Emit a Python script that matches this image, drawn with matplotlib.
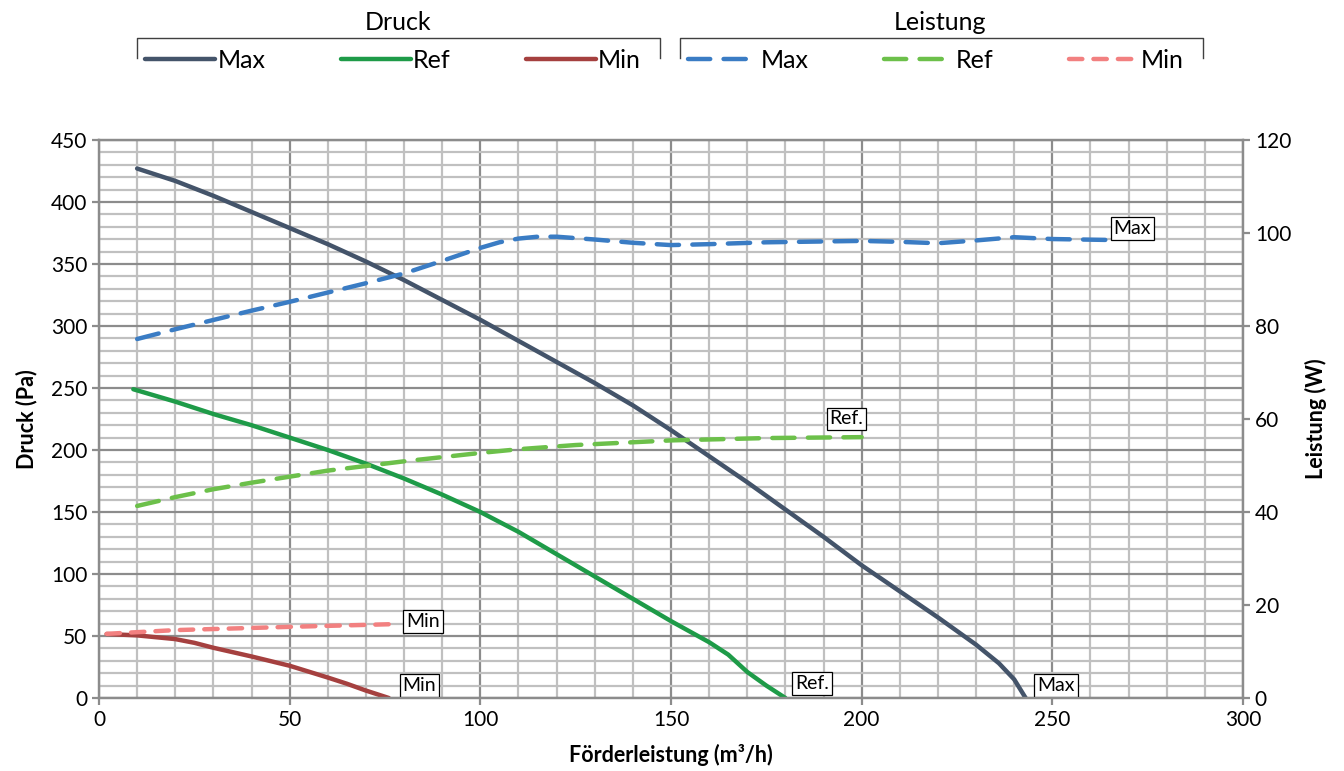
import matplotlib
matplotlib.use("Agg")
import matplotlib.pyplot as plt
from matplotlib.lines import Line2D
from matplotlib.ticker import MultipleLocator

plt.rcParams["font.family"] = ["Lato", "DejaVu Sans"]

# --- Druck (Pa) curves ---
max_x = [10, 20, 30, 40, 50, 60, 70, 80, 90, 100, 110, 120, 130, 140, 150, 160, 170,
         180, 190, 200, 210, 220, 230, 236, 240, 243]
max_p = [427, 417, 405, 392, 379, 366, 352, 337, 321, 305, 288, 271, 254, 236, 216, 195,
         174, 152, 130, 107, 86, 65, 43, 28, 15, 0]
ref_x = [9, 20, 30, 40, 50, 60, 70, 80, 90, 100, 110, 120, 130, 140, 150, 160, 165, 170,
         175, 180]
ref_p = [249, 239, 229, 220, 210, 200, 189, 177, 164, 150, 134, 116, 98, 80, 62, 45, 35,
         21, 10, 0]
min_x = [2, 10, 20, 25, 30, 40, 50, 60, 65, 70, 76]
min_p = [51.6, 50.5, 47.5, 44.5, 40.5, 33.5, 26, 16.5, 11.5, 6, 0]

# --- Leistung (W) curves ---
maxw_x = [10, 20, 30, 40, 50, 60, 70, 80, 90, 100, 105, 110, 115, 120, 130, 140, 150,
          160, 175, 200, 210, 220, 230, 240, 250, 265]
maxw_w = [77.2, 79.3, 81.3, 83.3, 85.2, 87.2, 89.2, 91.3, 94.0, 96.8, 98.0, 98.8, 99.2,
          99.2, 98.6, 97.9, 97.4, 97.6, 98.0, 98.3, 98.1, 97.8, 98.4, 99.1, 98.7, 98.5]
refw_x = [10, 20, 30, 40, 50, 60, 70, 80, 90, 100, 110, 125, 150, 175, 200]
refw_w = [41.3, 43.2, 44.9, 46.3, 47.6, 48.9, 49.9, 50.9, 51.8, 52.7, 53.5, 54.4, 55.4,
          55.9, 56.1]
minw_x = [2, 20, 50, 78]
minw_w = [13.8, 14.6, 15.3, 15.9]

C_MAX, C_REF, C_MIN = "#44546A", "#1E9B48", "#A5403F"
C_MAXW, C_REFW, C_MINW = "#3A7CC4", "#6CC04A", "#F28080"

fig = plt.figure(figsize=(13.44, 7.71), dpi=100)
ax = fig.add_axes([99 / 1344, 1 - 698 / 771, (1243 - 99) / 1344, (698 - 140) / 771])
ax2 = ax.twinx()

ax.set_xlim(0, 300)
ax.set_ylim(0, 450)
ax2.set_ylim(0, 120)
ax.xaxis.set_major_locator(MultipleLocator(50))
ax.xaxis.set_minor_locator(MultipleLocator(10))
ax.yaxis.set_major_locator(MultipleLocator(50))
ax.yaxis.set_minor_locator(MultipleLocator(10))
ax2.yaxis.set_major_locator(MultipleLocator(20))
ax.grid(which="minor", color="#C0C0C0", lw=1.6)
ax.grid(which="major", color="#8C8C8C", lw=1.6)
ax.set_axisbelow(True)
for a in (ax, ax2):
    for s in a.spines.values():
        s.set_color("#8C8C8C")
        s.set_linewidth(1.6)
    a.tick_params(which="major", length=5, width=1.6, color="#8C8C8C", labelsize=15)
    a.tick_params(which="minor", length=0)

lw = 3.2
l_max, = ax.plot(max_x, max_p, color=C_MAX, lw=lw, solid_capstyle="round")
l_ref, = ax.plot(ref_x, ref_p, color=C_REF, lw=lw, solid_capstyle="round")
l_min, = ax.plot(min_x, min_p, color=C_MIN, lw=lw, solid_capstyle="round")
l_maxw, = ax2.plot(maxw_x, maxw_w, color=C_MAXW, lw=lw, dashes=(5, 3), dash_capstyle="round")
l_refw, = ax2.plot(refw_x, refw_w, color=C_REFW, lw=lw, dashes=(5, 3), dash_capstyle="round")
l_minw, = ax2.plot(minw_x, minw_w, color=C_MINW, lw=lw, dashes=(3, 2.5), dash_capstyle="round")

ax.set_xlabel("Förderleistung (m³/h)", fontsize=15.5, fontweight="bold", labelpad=10)
ax.set_ylabel("Druck (Pa)", fontsize=15.5, fontweight="bold", labelpad=10)
ax2.set_ylabel("Leistung (W)", fontsize=15.5, fontweight="bold", labelpad=10)

box = dict(boxstyle="square,pad=0.15", fc="white", ec="black", lw=0.9)
lbl = dict(fontsize=14, bbox=box, ha="center", va="center")
ax2.text(271, 101, "Max", **lbl)
ax2.text(196, 60, "Ref.", **lbl)
ax2.text(85, 16.5, "Min", **lbl)
ax.text(84, 10, "Min", **lbl)
ax.text(187, 12, "Ref.", **lbl)
ax.text(251, 10, "Max", **lbl)

# legend groups with brackets
leg_kw = dict(ncol=3, frameon=False, fontsize=18, handlelength=2.8,
              columnspacing=3.0, handletextpad=0.1, loc="center")
fig.legend([l_max, l_ref, l_min], ["Max", "Ref", "Min"],
           bbox_to_anchor=(393 / 1344, 1 - 60 / 771), **leg_kw)
fig.legend([l_maxw, l_refw, l_minw], ["Max", "Ref", "Min"],
           bbox_to_anchor=(936 / 1344, 1 - 60 / 771), **leg_kw)
fig.text(398 / 1344, 1 - 22 / 771, "Druck", fontsize=18, ha="center", va="center")
fig.text(940 / 1344, 1 - 22 / 771, "Leistung", fontsize=18, ha="center", va="center")
for x0, x1 in ((137, 660), (680, 1203)):
    xs = [x0 / 1344, x0 / 1344, x1 / 1344, x1 / 1344]
    ys = [1 - 58 / 771, 1 - 38 / 771, 1 - 38 / 771, 1 - 58 / 771]
    fig.add_artist(Line2D(xs, ys, color="#404040", lw=1.0))

fig.savefig("out.png", dpi=100)
